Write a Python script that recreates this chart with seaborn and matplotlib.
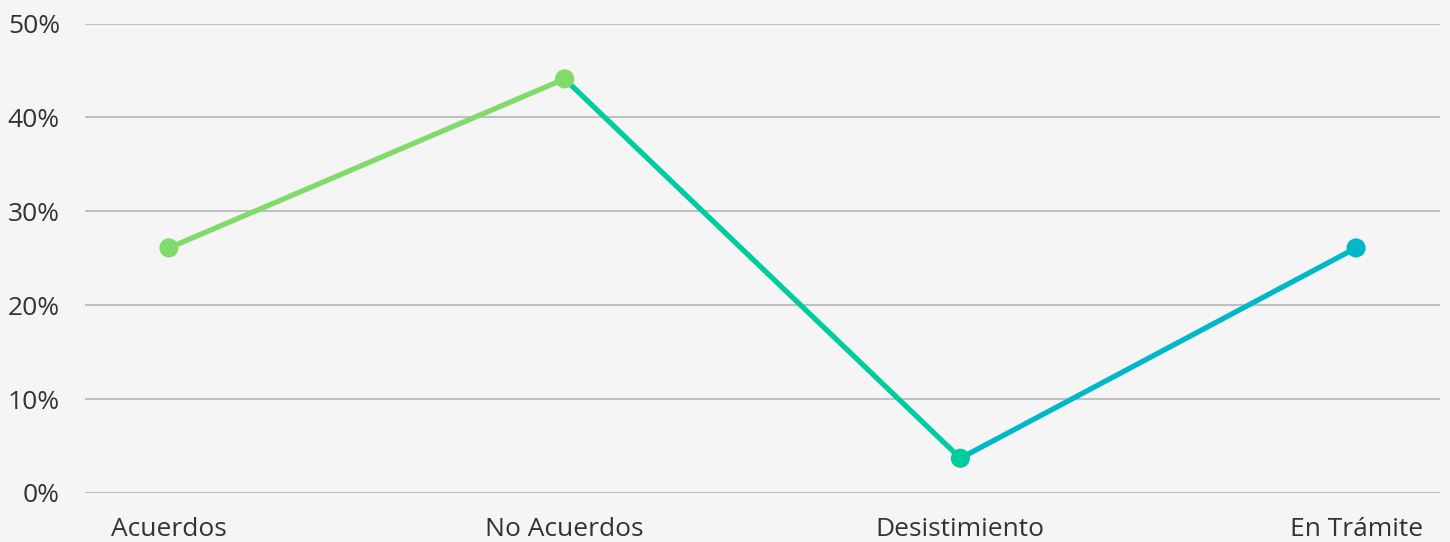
import matplotlib
matplotlib.use("Agg")
import matplotlib.pyplot as plt
import seaborn as sns
import numpy as np
import pandas as pd

categories = ["Acuerdos", "No Acuerdos", "Desistimiento", "En Trámite"]
values = [26.1, 44.1, 3.7, 26.1]
point_colors = ["#80dc6a", "#80dc6a", "#00cc9e", "#00b8c8"]
y_ticks = [0, 10, 20, 30, 40, 50]
y_labels = ["0%", "10%", "20%", "30%", "40%", "50%"]

sns.set_theme(style="white")
plt.rcParams["font.family"] = ["Open Sans", "DejaVu Sans"]

bg = "#f5f5f5"
fig = plt.figure(figsize=(14.5, 5.42), dpi=100, facecolor=bg)
ax = fig.add_axes([85 / 1450, 49 / 542, 1355 / 1450, 469.5 / 542])
ax.set_facecolor(bg)

df = pd.DataFrame({"pos": np.arange(len(categories)), "cat": categories, "val": values})

for y in y_ticks:
    ax.axhline(y, color="#c0c0c0", lw=1.5, zorder=0)

for i in range(len(df) - 1):
    seg = df.iloc[i:i + 2]
    sns.lineplot(data=seg, x="pos", y="val", ax=ax, color=point_colors[i + 1],
                 lw=3.8, zorder=2, solid_capstyle="round")

sns.scatterplot(data=df, x="pos", y="val", hue="cat", palette=point_colors, ax=ax,
                s=190, edgecolor="none", zorder=3, legend=False, clip_on=False)

ax.set_xlim(-0.212, 3.212)
ax.set_ylim(0, 50)
ax.set_xticks(df["pos"])
ax.set_xticklabels(categories)
ax.set_yticks(y_ticks)
ax.set_yticklabels(y_labels)
ax.tick_params(axis="both", length=0, labelsize=19, colors="#333333")
ax.tick_params(axis="y", pad=18)
ax.tick_params(axis="x", pad=17)
ax.set_xlabel("")
ax.set_ylabel("")
for s in ax.spines.values():
    s.set_visible(False)

fig.savefig("out.png", dpi=100, facecolor=bg)
